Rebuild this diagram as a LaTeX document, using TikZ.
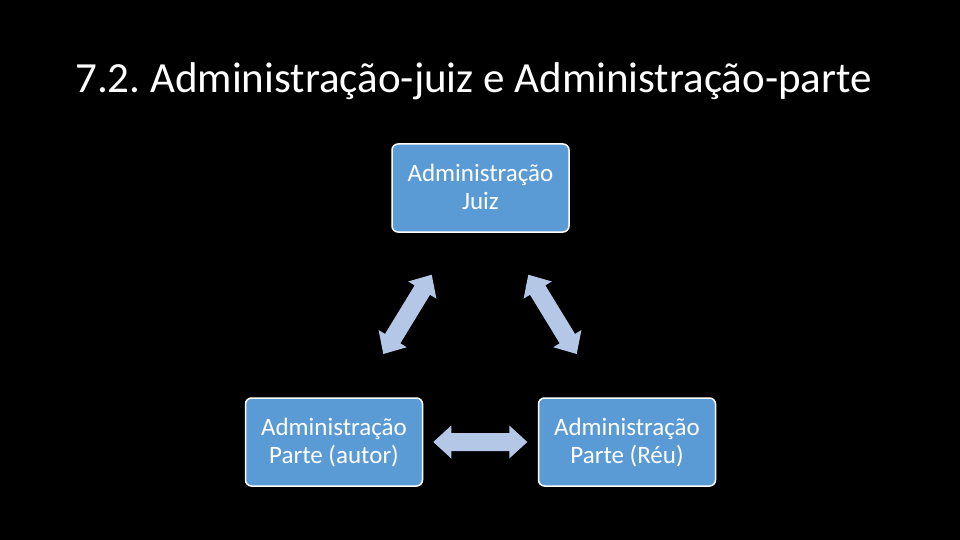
\documentclass[tikz,border=0pt]{standalone}
\usepackage{fontspec}
\setmainfont{Carlito}
\usetikzlibrary{calc}
\definecolor{boxblue}{HTML}{5B9BD5}
\definecolor{arrowblue}{HTML}{B4C7E7}
\newcommand{\arrhead}{18pt}
\newcommand{\arrhw}{16.5pt}
\newcommand{\arrsw}{9pt}
\newcommand{\dblarrow}[3]{%
  \coordinate (#3h1) at ($(#1)!\arrhead!(#2)$);
  \coordinate (#3h2) at ($(#2)!\arrhead!(#1)$);
  \fill[arrowfill] (#1)
    -- ($(#3h1)!\arrhw!90:(#2)$) -- ($(#3h1)!\arrsw!90:(#2)$)
    -- ($(#3h2)!\arrsw!-90:(#1)$) -- ($(#3h2)!\arrhw!-90:(#1)$)
    -- (#2)
    -- ($(#3h2)!\arrhw!90:(#1)$) -- ($(#3h2)!\arrsw!90:(#1)$)
    -- ($(#3h1)!\arrsw!-90:(#2)$) -- ($(#3h1)!\arrhw!-90:(#2)$)
    -- cycle;}
\begin{document}
\frenchspacing
\begin{tikzpicture}[x=1pt,y=-1pt,
  box/.style={draw=white, line width=1.5pt, fill=boxblue, rounded corners=6pt,
    minimum width=177pt, minimum height=88pt, inner sep=0pt, align=center,
    text=white, font=\fontsize{25}{28}\selectfont},
  arrowfill/.style={fill=arrowblue},
  titletext/.style={text=white, font=\fontsize{43}{50}\selectfont, inner sep=0pt, anchor=base west}]
\fill[black] (0,0) rectangle (960,540);
\useasboundingbox (0,0) rectangle (960,540);
\node[titletext] (title) at (75,93) {7.2. Administração-juiz e Administração-parte};
\node[box] (juiz) at (480.5,188) {\rule{0pt}{20pt}Administração\\Juiz\rule[-6pt]{0pt}{6pt}};
\node[box] (autor) at (334,442) {\rule{0pt}{20pt}Administração\\Parte (autor)\rule[-6pt]{0pt}{6pt}};
\node[box] (reu) at (627,442) {\rule{0pt}{20pt}Administração\\Parte (Réu)\rule[-6pt]{0pt}{6pt}};
\coordinate (a1s) at (383.3,354);
\coordinate (a1e) at (431.7,274.7);
\coordinate (a2s) at (528.3,274.7);
\coordinate (a2e) at (576.7,354);
\coordinate (a3s) at (433.3,442);
\coordinate (a3e) at (527.3,442);
\dblarrow{a1s}{a1e}{l}
\dblarrow{a2s}{a2e}{r}
\dblarrow{a3s}{a3e}{b}
\end{tikzpicture}
\end{document}
